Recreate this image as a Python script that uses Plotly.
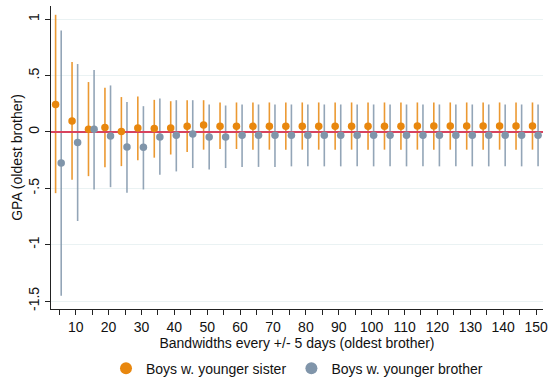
import plotly.graph_objects as go

# Bandwidths (+/- days around the cutoff)
bandwidths = list(range(5, 155, 5))

# Boys with a younger sister: point estimate and 95% CI
sister_est = [0.244, 0.098, 0.024, 0.039, 0.004, 0.036, 0.030, 0.036, 0.050, 0.062,
              0.050, 0.050, 0.050, 0.050, 0.050, 0.050, 0.050, 0.050, 0.050, 0.050,
              0.050, 0.050, 0.053, 0.053, 0.053, 0.053, 0.053, 0.053, 0.053, 0.053]
sister_lo = [-0.543, -0.424, -0.392, -0.312, -0.303, -0.252, -0.228, -0.200, -0.178, -0.157,
             -0.151, -0.151, -0.157, -0.157, -0.157, -0.157, -0.157, -0.157, -0.157, -0.157,
             -0.157, -0.157, -0.157, -0.157, -0.157, -0.157, -0.157, -0.157, -0.157, -0.157]
sister_hi = [1.040, 0.620, 0.443, 0.392, 0.310, 0.315, 0.285, 0.273, 0.282, 0.282,
             0.262, 0.262, 0.262, 0.262, 0.262, 0.262, 0.262, 0.262, 0.262, 0.262,
             0.262, 0.262, 0.262, 0.262, 0.262, 0.262, 0.262, 0.262, 0.262, 0.262]

# Boys with a younger brother: point estimate and 95% CI
brother_est = [-0.276, -0.094, 0.024, -0.036, -0.134, -0.136, -0.044, -0.030, -0.018, -0.044,
               -0.044, -0.030, -0.030, -0.030, -0.030, -0.030, -0.030, -0.030, -0.030, -0.030,
               -0.030, -0.030, -0.030, -0.030, -0.030, -0.030, -0.030, -0.030, -0.030, -0.030]
brother_lo = [-1.454, -0.790, -0.510, -0.490, -0.540, -0.510, -0.380, -0.350, -0.320, -0.333,
              -0.320, -0.310, -0.310, -0.310, -0.305, -0.305, -0.305, -0.305, -0.305, -0.305,
              -0.305, -0.305, -0.305, -0.305, -0.305, -0.305, -0.305, -0.305, -0.305, -0.305]
brother_hi = [0.900, 0.603, 0.550, 0.413, 0.267, 0.229, 0.297, 0.282, 0.282, 0.244,
              0.235, 0.244, 0.244, 0.244, 0.244, 0.244, 0.244, 0.244, 0.244, 0.244,
              0.244, 0.244, 0.244, 0.244, 0.244, 0.244, 0.244, 0.244, 0.244, 0.244]

series_names = ["Boys w. younger sister", "Boys w. younger brother"]

y_tickvals = [-1.5, -1, -0.5, 0, 0.5, 1]
y_ticktext = ["-1.5", "-1", "-.5", "0", ".5", "1"]
x_tickvals = list(range(5, 155, 5))
x_ticktext = [str(v) if v % 10 == 0 else "" for v in x_tickvals]

X_RANGE = [2.5, 152.1]
Y_RANGE = [-1.571, 1.118]

ORANGE = "#e8870e"
BLUE = "#8095aa"
FONT = "Liberation Sans, Arial, sans-serif"

series = [
    (series_names[0], sister_est, sister_lo, sister_hi, -1.1, ORANGE, "rgba(232,135,14,0.85)"),
    (series_names[1], brother_est, brother_lo, brother_hi, 0.6, BLUE, "rgba(128,149,170,0.85)"),
]

fig = go.Figure()

# confidence intervals (vertical spikes, no caps)
for name, est, lo, hi, shift, color, bar_color in series:
    fig.add_trace(go.Scatter(
        x=[b + shift for b in bandwidths],
        y=est,
        mode="markers",
        marker=dict(size=1, color="rgba(0,0,0,0)"),
        showlegend=False, hoverinfo="skip",
        error_y=dict(
            type="data",
            symmetric=False,
            array=[h - e for h, e in zip(hi, est)],
            arrayminus=[e - l for e, l in zip(est, lo)],
            color=bar_color,
            thickness=1.6,
            width=0,
        ),
    ))

# reference line at zero, above the spikes and below the point estimates
fig.add_trace(go.Scatter(
    x=X_RANGE, y=[0, 0], mode="lines",
    line=dict(color="#d8435e", width=1.8),
    showlegend=False, hoverinfo="skip",
))

# point estimates
for name, est, lo, hi, shift, color, bar_color in series:
    fig.add_trace(go.Scatter(
        x=[b + shift for b in bandwidths],
        y=est,
        mode="markers",
        name=name,
        marker=dict(color=color, size=7.5, line=dict(width=0)),
    ))

fig.update_layout(
    width=557, height=379,
    margin=dict(l=51, r=14, t=6, b=70, autoexpand=False),
    paper_bgcolor="white", plot_bgcolor="white",
    font=dict(family=FONT, size=14, color="#111"),
    showlegend=True,
    legend=dict(orientation="h", xref="paper", x=0.5, xanchor="center",
                yref="container", y=0.027, yanchor="middle",
                font=dict(size=14), itemsizing="constant", itemwidth=30,
                bgcolor="rgba(0,0,0,0)"),
    xaxis=dict(
        range=X_RANGE, automargin=False,
        tickmode="array", tickvals=x_tickvals, ticktext=x_ticktext,
        ticks="outside", ticklen=5, tickwidth=1, tickcolor="#222",
        showline=True, linecolor="#222", linewidth=1,
        showgrid=False, zeroline=False,
        title=dict(text="Bandwidths every +/- 5 days (oldest brother)", standoff=3,
                   font=dict(size=14)),
        tickfont=dict(size=14),
    ),
    yaxis=dict(
        range=Y_RANGE, automargin=False,
        tickmode="array", tickvals=y_tickvals, ticktext=y_ticktext,
        tickangle=-90,
        ticks="outside", ticklen=5, tickwidth=1, tickcolor="#222",
        showline=True, linecolor="#222", linewidth=1,
        showgrid=True, gridcolor="#eaf2f3", gridwidth=1,
        zeroline=False,
        title=dict(text="GPA (oldest brother)", standoff=0, font=dict(size=14)),
        tickfont=dict(size=14),
    ),
)

fig.write_html("out.html")
